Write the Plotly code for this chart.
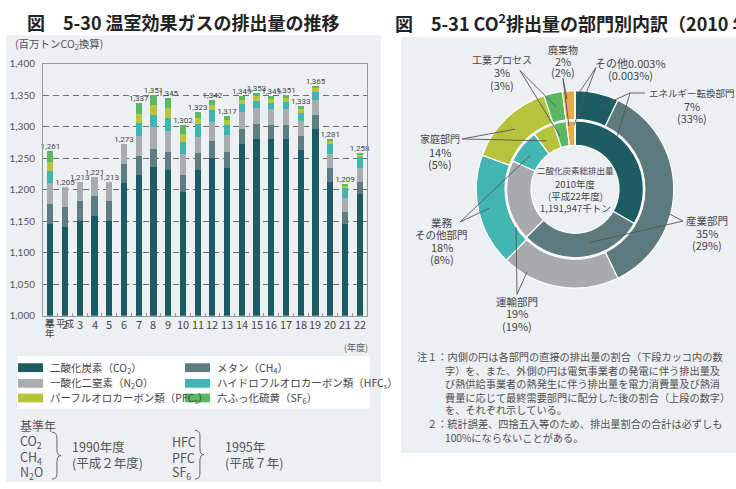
import plotly.graph_objects as go

W, H = 736, 489

# ---------------- data: left chart (million t CO2 eq) ----------------
categories = ["基準年", "2", "3", "4", "5", "6", "7", "8", "9", "10", "11",
              "12", "13", "14", "15", "16", "17", "18", "19", "20", "21", "22"]
co2 = [1145, 1141, 1151, 1159, 1151, 1211, 1223, 1236, 1232, 1196, 1232,
       1251, 1235, 1273, 1281, 1280, 1281, 1263, 1297, 1213, 1145, 1193]
ch4 = [33, 32, 31, 31, 31, 30, 30, 29, 28, 28, 27, 26, 25, 24, 23, 23, 22, 22, 21, 21, 20, 20]
n2o = [32, 32, 31, 31, 31, 32, 33, 34, 34, 33, 25, 30, 27, 26, 25, 25, 25, 24, 24, 23, 22, 22]
hfc = [20, None, None, None, None, None, 20, 20, 20, 19, 20, 19, 16, 13, 12, 9, 11, 12, 13, 15, 17, 18]
pfc = [14, None, None, None, None, None, 14, 15, 16, 13, 10, 9, 8, 7, 7, 7, 7, 7, 6, 5, 3, 3]
sf6 = [17, None, None, None, None, None, 17, 17, 15, 13, 9, 7, 6, 6, 5, 5, 5, 5, 4, 4, 2, 2]
total_labels = ["1,261", "1,205", "1,213", "1,221", "1,213", "1,273", "1,337", "1,351",
                "1,345", "1,302", "1,323", "1,342", "1,317", "1,349", "1,353", "1,349",
                "1,351", "1,333", "1,365", "1,281", "1,209", "1,258"]
series_names = ["二酸化炭素（CO<sub>2</sub>）", "メタン（CH<sub>4</sub>）",
                "一酸化二窒素（N<sub>2</sub>O）", "ハイドロフルオロカーボン類（HFC<sub>s</sub>）",
                "パーフルオロカーボン類（PFC<sub>s</sub>）", "六ふっ化硫黄（SF<sub>6</sub>）"]
y_ticks = [1000, 1050, 1100, 1150, 1200, 1250, 1300, 1350, 1400]

# ---------------- data: right chart (%) ----------------
sectors = ["エネルギー転換部門", "産業部門", "運輸部門", "業務その他部門",
           "家庭部門", "工業プロセス", "廃棄物", "その他"]
outer_pct = [7, 35, 19, 18, 14, 3, 2, 0.003]
inner_pct = [33, 29, 19, 8, 5, 3, 2, 0.003]

# ---------------- style ----------------
bar_colors = ["#1b5b61", "#5f7c80", "#a9adb0", "#40b6b4", "#b6c53a", "#5cb862"]
pie_colors = ["#1d5c63", "#5d7a7e", "#a7abae", "#43b5b2", "#b5c43c", "#5cb85f", "#e9a94a", "#d8c89a"]
PANEL = "#edf0f2"
TXT = "#454545"
JP = "Noto Sans CJK JP"


def px(x):
    return x / W


def py(y):
    return 1 - y / H


fig = go.Figure()

idx = list(range(len(categories)))
series = [co2, ch4, n2o, hfc, pfc, sf6]
for vals, name, col in zip(series, series_names, bar_colors):
    fig.add_trace(go.Bar(x=idx, y=vals, name=name, marker_color=col,
                         marker_line_width=0, width=0.42, showlegend=False,
                         xaxis="x", yaxis="y", hoverinfo="skip"))

totals = [sum(v[i] or 0 for v in series) for i in idx]
fig.add_trace(go.Scatter(x=idx, y=totals, mode="text", text=total_labels,
                         textposition="top center",
                         textfont=dict(size=8, color=TXT, family="Liberation Sans Narrow, Roboto"),
                         showlegend=False, cliponaxis=False, hoverinfo="skip"))

# nested donut
cx, cy = 575, 187.5
R_out, R_in = 101, 70
fig.add_trace(go.Pie(labels=sectors, values=outer_pct, sort=False, direction="clockwise",
                     rotation=0, hole=71.5 / R_out, textinfo="none", showlegend=False,
                     marker=dict(colors=pie_colors, line=dict(color="white", width=1.2)),
                     domain=dict(x=[px(cx - R_out), px(cx + R_out)],
                                 y=[py(cy + R_out), py(cy - R_out)]),
                     hoverinfo="label+value"))
fig.add_trace(go.Pie(labels=sectors, values=inner_pct, sort=False, direction="clockwise",
                     rotation=0, hole=45 / R_in, textinfo="none", showlegend=False,
                     marker=dict(colors=pie_colors, line=dict(color="white", width=1.2)),
                     domain=dict(x=[px(cx - R_in), px(cx + R_in)],
                                 y=[py(cy + R_in), py(cy - R_in)]),
                     hoverinfo="label+value"))

shapes = []
# panels
shapes.append(dict(type="rect", xref="paper", yref="paper", x0=px(6), x1=px(381),
                   y0=py(487), y1=py(30), fillcolor=PANEL, line_width=0, layer="below"))
shapes.append(dict(type="rect", xref="paper", yref="paper", x0=px(401), x1=px(736),
                   y0=py(457), y1=py(32), fillcolor=PANEL, line_width=0, layer="below"))
# legend box
shapes.append(dict(type="rect", xref="paper", yref="paper", x0=px(17), x1=px(370),
                   y0=py(412), y1=py(358), fillcolor="white", line_width=0, layer="below"))

annotations = []


def ann(x, y, text, size=10, color=TXT, xanchor="center", yanchor="middle", align="center", family=JP):
    annotations.append(dict(x=px(x), y=py(y), xref="paper", yref="paper", text=text,
                            showarrow=False, xanchor=xanchor, yanchor=yanchor, align=align,
                            font=dict(size=size, color=color, family=family)))


# titles
ann(25, 16, "<b>図　5-30 温室効果ガスの排出量の推移</b>", size=18, color="#222", xanchor="left")
ann(393, 16, "<b>図　5-31 CO<sup>2</sup>排出量の部門別内訳（2010 年度）</b>", size=18, color="#222", xanchor="left")

# left chart labels
ann(13, 39, "(百万トンCO<sub>2</sub>換算)", size=10.5, color="#555", xanchor="left")
for i, c in enumerate(categories):
    if i == 0:
        for ch, yy in zip("基準年", [324, 334, 344]):
            annotations.append(dict(x=i, y=py(yy), xref="x", yref="paper", text=ch, showarrow=False,
                                    font=dict(size=9.5, color=TXT, family=JP)))
    else:
        annotations.append(dict(x=i, y=py(336), xref="x", yref="paper", text=c, showarrow=False,
                                font=dict(size=11, color=TXT, family=JP)))
        if i == 1:
            annotations.append(dict(x=i, y=py(325), xref="x", yref="paper", text="平成",
                                    showarrow=False, font=dict(size=9, color=TXT, family=JP)))
ann(356, 349, "(年度)", size=9, color="#555")

# legend entries
leg_pos = [(18, 370), (185, 370), (18, 386), (185, 386), (18, 401), (185, 401)]
for (lx, ly), name, col in zip(leg_pos, series_names, bar_colors):
    shapes.append(dict(type="rect", xref="paper", yref="paper", x0=px(lx), x1=px(lx + 25),
                       y0=py(ly + 4.5), y1=py(ly - 4.5), fillcolor=col, line_width=0))
    ann(lx + 30, ly, name, size=10.5, color=TXT, xanchor="left")

# base year note
ann(18, 429, "基準年", size=12, color="#555", xanchor="left")
for t, yy in zip(["CO<sub>2</sub>", "CH<sub>4</sub>", "N<sub>2</sub>O"], [446, 462, 477]):
    ann(18, yy, t, size=12.5, color="#555", xanchor="left")
ann(70, 451, "1990年度", size=12.5, color="#555", xanchor="left")
ann(70, 467, "(平成２年度)", size=12.5, color="#555", xanchor="left")
for t, yy in zip(["HFC", "PFC", "SF<sub>6</sub>"], [446, 462, 477]):
    ann(170, yy, t, size=12.5, color="#555", xanchor="left")
ann(223, 451, "1995年", size=12.5, color="#555", xanchor="left")
ann(223, 467, "(平成７年)", size=12.5, color="#555", xanchor="left")


def brace(x0, ytop, ybot, w):
    xm = x0 + w * 0.55
    ymid = (ytop + ybot) / 2
    pts = [("M", x0, ytop), ("Q", xm, ytop, xm, ytop + 6), ("L", xm, ymid - 6),
           ("Q", xm, ymid, x0 + w, ymid), ("Q", xm, ymid, xm, ymid + 6),
           ("L", xm, ybot - 6), ("Q", xm, ybot, x0, ybot)]
    s = ""
    for p in pts:
        cmd = p[0]
        coords = p[1:]
        s += cmd + " " + " ".join(
            f"{px(coords[k]):.5f},{py(coords[k + 1]):.5f}" for k in range(0, len(coords), 2)) + " "
    return dict(type="path", xref="paper", yref="paper", path=s.strip(),
                line=dict(color="#666", width=1))


shapes.append(brace(52, 436, 484, 9))
shapes.append(brace(195, 434, 484, 9))

# donut centre text
ann(575, 168, "二酸化炭素総排出量", size=8.5, color=TXT)
ann(575, 182, "2010年度", size=9.5, color=TXT)
ann(575, 194, "(平成22年度)", size=9.5, color=TXT)
ann(575, 207, "1,191,947千トン", size=9.5, color=TXT)

# donut labels
ann(563, 44, "廃棄物", size=10)
ann(563, 56, "2%", size=11)
ann(563, 68, "(2%)", size=11)
ann(502, 55, "工業プロセス", size=10)
ann(502, 68, "3%", size=11)
ann(502, 81, "(3%)", size=11)
ann(630, 58, "その他0.003%", size=11)
ann(630, 71, "(0.003%)", size=11)
ann(692, 89, "エネルギー転換部門", size=9.5)
ann(692, 102, "7%", size=11)
ann(692, 115, "(33%)", size=11)
ann(440, 136, "家庭部門", size=10)
ann(440, 149, "14%", size=11)
ann(440, 162, "(5%)", size=11)
ann(442, 221, "業務", size=10.5)
ann(442, 234, "その他部門", size=10.5)
ann(442, 247, "18%", size=11)
ann(442, 259, "(8%)", size=11)
ann(707, 219, "産業部門", size=10.5)
ann(707, 232, "35%", size=11)
ann(707, 245, "(29%)", size=11)
ann(517, 302, "運輸部門", size=10.5)
ann(517, 314, "19%", size=11)
ann(517, 327, "(19%)", size=11)

# notes
note_lines = [
    (415, 359, "注１：内側の円は各部門の直接の排出量の割合（下段カッコ内の数"),
    (443, 373, "字）を、また、外側の円は電気事業者の発電に伴う排出量及"),
    (443, 386, "び熱供給事業者の熱発生に伴う排出量を電力消費量及び熱消"),
    (443, 400, "費量に応じて最終需要部門に配分した後の割合（上段の数字）"),
    (443, 413, "を、それぞれ示している。"),
    (425, 427, "２：統計誤差、四捨五入等のため、排出量割合の合計は必ずしも"),
    (443, 441, "100%にならないことがある。"),
]
for x, y, t in note_lines:
    ann(x, y, t, size=10.2, color="#505050", xanchor="left")

# leader lines
leaders = [
    ((645, 89), (630, 89)), ((630, 89), (600, 103)), ((630, 89), (614, 145)),
    ((596, 63), (577, 92)), ((596, 63), (574, 122)),
    ((563, 74), (567, 95)), ((563, 74), (569, 123)),
    ((520, 66), (556, 103)), ((520, 66), (560, 133)),
    ((462, 136), (515, 126)), ((462, 136), (547, 138)),
    ((460, 221), (489, 207)), ((460, 221), (530, 153)),
    ((683, 220), (670, 213)), ((683, 220), (590, 242)),
    ((517, 295), (527, 272)), ((517, 295), (516, 226)),
]
for (x0, y0), (x1, y1) in leaders:
    shapes.append(dict(type="line", xref="paper", yref="paper", x0=px(x0), y0=py(y0),
                       x1=px(x1), y1=py(y1), line=dict(color="#555", width=0.9)))

fig.update_layout(
    width=W, height=H, margin=dict(l=0, r=0, t=0, b=0),
    paper_bgcolor="white", plot_bgcolor="rgba(0,0,0,0)",
    barmode="stack",
    shapes=shapes, annotations=annotations,
    xaxis=dict(domain=[px(43), px(367)], range=[-0.5, 21.5],
               tickvals=[i + 0.5 for i in idx[:-1]],
               showticklabels=False, showgrid=False, showline=True, linecolor="#8e9a9e",
               linewidth=1, mirror=True, ticks="inside", ticklen=3, tickcolor="#8e9a9e",
               zeroline=False, fixedrange=True),
    yaxis=dict(domain=[py(317), py(59)], range=[1000, 1400], tickvals=y_ticks,
               tickformat=",", ticks="", showline=True, linecolor="#8e9a9e", linewidth=1,
               mirror=True, showgrid=True, gridcolor="#6b6f72", gridwidth=1,
               griddash="6px,4px", zeroline=False,
               tickfont=dict(size=10, color="#555", family="Lato"),
               ticklabelstandoff=5, fixedrange=True),
    font=dict(family=JP, color=TXT),
)

fig.write_html("out.html")
